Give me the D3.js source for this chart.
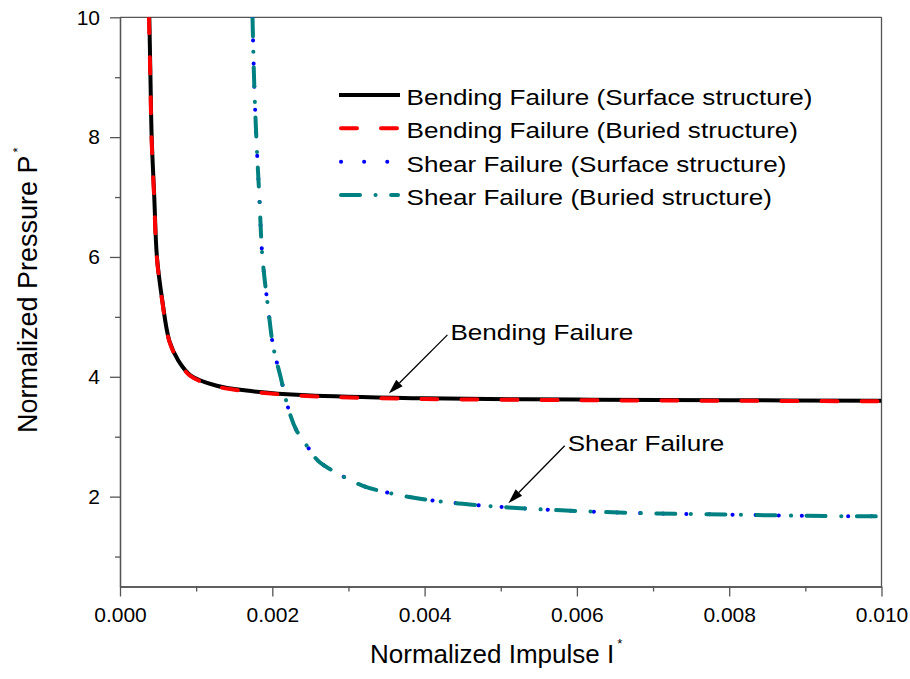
<!DOCTYPE html>
<html>
<head>
<meta charset="utf-8">
<script src="https://cdn.jsdelivr.net/npm/d3@7"></script>
<style>
  body { margin: 0; background: #fff; }
  text { font-family: "Liberation Sans", Arial, sans-serif; fill: #000; }
</style>
</head>
<body>
<svg id="chart" width="910" height="679"></svg>
<script>
// P-I curves: [normalized impulse I*, normalized pressure P*]
const bendingSurface = [
  [0.000385, 10.0], [0.000400, 9.0], [0.000416, 8.0], [0.000450, 7.0],
  [0.000485, 6.0], [0.000556, 5.27], [0.000648, 4.60], [0.000766, 4.27],
  [0.000930, 4.02], [0.00127, 3.85], [0.00166, 3.77], [0.00245, 3.69],
  [0.00400, 3.64], [0.00600, 3.62], [0.00800, 3.61], [0.01000, 3.60]
];
const bendingBuried = [
  [0.000380, 10.0], [0.000398, 9.0], [0.000414, 8.0], [0.000448, 7.0],
  [0.000483, 6.0], [0.000554, 5.27], [0.000646, 4.60], [0.000764, 4.27],
  [0.000928, 4.01], [0.00127, 3.84], [0.00166, 3.76], [0.00245, 3.68],
  [0.00400, 3.63], [0.00600, 3.61], [0.00800, 3.60], [0.01000, 3.59]
];
const shearSurface = [
  [0.00174, 10.0], [0.00176, 9.0], [0.00179, 8.0], [0.00183, 7.0],
  [0.00187, 6.0], [0.00195, 5.10], [0.00201, 4.52], [0.00211, 3.99],
  [0.00222, 3.43], [0.00232, 3.10], [0.00247, 2.82], [0.00260, 2.60],
  [0.00284, 2.40], [0.00319, 2.18], [0.00354, 2.06], [0.00396, 1.96],
  [0.00450, 1.88], [0.00510, 1.82], [0.00600, 1.76], [0.00700, 1.72],
  [0.00800, 1.70], [0.00900, 1.68], [0.01000, 1.67]
];
const shearBuried = [
  [0.00174, 10.0], [0.00176, 9.0], [0.00179, 8.0], [0.00183, 7.0],
  [0.00187, 6.0], [0.00195, 5.10], [0.00201, 4.52], [0.00211, 3.99],
  [0.00222, 3.43], [0.00232, 3.10], [0.00247, 2.82], [0.00260, 2.60],
  [0.00284, 2.40], [0.00319, 2.18], [0.00354, 2.06], [0.00396, 1.96],
  [0.00450, 1.88], [0.00510, 1.82], [0.00600, 1.76], [0.00700, 1.72],
  [0.00800, 1.70], [0.00900, 1.68], [0.01000, 1.67]
];

const seriesNames = [
  "Bending Failure (Surface structure)",
  "Bending Failure (Buried structure)",
  "Shear Failure (Surface structure)",
  "Shear Failure (Buried structure)"
];

const xMajorTicks = [0, 0.002, 0.004, 0.006, 0.008, 0.010];
const xMinorTicks = [0.001, 0.003, 0.005, 0.007, 0.009];
const yMajorTicks = [2, 4, 6, 8, 10];
const yMinorTicks = [1, 3, 5, 7, 9];

// Callouts: label, point on curve the arrow touches, arrow tail
const callouts = [
  { label: "Bending Failure", tip: [0.00353, 3.72], tail: [0.00430, 4.70] },
  { label: "Shear Failure",   tip: [0.00510, 1.89], tail: [0.00584, 2.85] }
];

// ---- drawing ----
const svg = d3.select("#chart");
const plot = { left: 120, right: 881.5, top: 17.3, bottom: 586.5 };
const axisColor = "#555";

const x = d3.scaleLinear().domain([0, 0.010]).range([plot.left, plot.right]);
const y = d3.scaleLinear().domain([0.5, 10]).range([plot.bottom, plot.top]);

// frame (top and right)
svg.append("line").attr("x1", plot.left).attr("x2", plot.right)
  .attr("y1", plot.top).attr("y2", plot.top)
  .attr("stroke", axisColor).attr("stroke-width", 1.3);
svg.append("line").attr("x1", plot.right).attr("x2", plot.right)
  .attr("y1", plot.top).attr("y2", plot.bottom)
  .attr("stroke", axisColor).attr("stroke-width", 1.3);

function styleAxis(g) {
  g.select(".domain").attr("stroke", axisColor).attr("stroke-width", 1.3);
  g.selectAll(".tick line").attr("stroke", axisColor).attr("stroke-width", 1.3);
  g.selectAll(".tick text")
    .attr("font-family", "Liberation Sans, Arial, sans-serif")
    .attr("font-size", 21).attr("fill", "#000");
}

// x axis
svg.append("g").attr("transform", `translate(0,${plot.bottom})`)
  .call(d3.axisBottom(x).tickValues(xMinorTicks).tickSize(5).tickSizeOuter(0).tickFormat(""))
  .call(styleAxis);
svg.append("g").attr("transform", `translate(0,${plot.bottom})`)
  .call(d3.axisBottom(x).tickValues(xMajorTicks).tickSize(10).tickSizeOuter(0)
    .tickPadding(11).tickFormat(d3.format(".3f")))
  .call(styleAxis);

// y axis
svg.append("g").attr("transform", `translate(${plot.left},0)`)
  .call(d3.axisLeft(y).tickValues(yMinorTicks).tickSize(5).tickSizeOuter(0).tickFormat(""))
  .call(styleAxis);
svg.append("g").attr("transform", `translate(${plot.left},0)`)
  .call(d3.axisLeft(y).tickValues(yMajorTicks).tickSize(10).tickSizeOuter(0)
    .tickPadding(10).tickFormat(d3.format("d")))
  .call(styleAxis);

// axis titles
const xTitle = svg.append("text").attr("x", 370).attr("y", 663)
  .attr("font-size", 26);
xTitle.append("tspan").text("Normalized Impulse I");
xTitle.append("tspan").attr("dx", 3).attr("dy", -15).attr("font-size", 13).text("*");

const yTitle = svg.append("text")
  .attr("transform", "translate(37,433) rotate(-90)")
  .attr("font-size", 27);
yTitle.append("tspan").text("Normalized Pressure P");
yTitle.append("tspan").attr("dx", 3).attr("dy", -15).attr("font-size", 13).text("*");

// curves
svg.append("clipPath").attr("id", "plot-clip").append("rect")
  .attr("x", plot.left).attr("y", plot.top)
  .attr("width", plot.right - plot.left).attr("height", plot.bottom - plot.top);

const line = d3.line().x(d => x(d[0])).y(d => y(d[1])).curve(d3.curveCatmullRom.alpha(0.5));

const styles = [
  { color: "#000000", dash: null,                 cap: "butt"  },
  { color: "#ff0000", dash: "16,24",              cap: "round" },
  { color: "#0000ff", dash: "0.1,23",             cap: "round" },
  { color: "#008080", dash: "19,15.5,0.1,15.5",   cap: "round" }
];
const seriesData = [bendingSurface, bendingBuried, shearSurface, shearBuried];

const curves = svg.append("g").attr("clip-path", "url(#plot-clip)");
seriesData.forEach((data, i) => {
  const s = styles[i];
  curves.append("path").datum(data)
    .attr("d", line)
    .attr("fill", "none")
    .attr("stroke", s.color)
    .attr("stroke-width", 4)
    .attr("stroke-linecap", s.cap)
    .attr("stroke-linejoin", "round")
    .attr("stroke-dasharray", s.dash);
});

// legend
const legendX0 = 341, legendX1 = 398, legendTextX = 406.5;
const legendRowY = d3.scalePoint().domain(seriesNames).range([95, 195]);
seriesNames.forEach((name, i) => {
  const s = styles[i];
  const ly = legendRowY(name);
  svg.append("line")
    .attr("x1", i === 0 ? 339 : legendX0).attr("x2", i === 0 ? 400 : legendX1)
    .attr("y1", ly).attr("y2", ly)
    .attr("stroke", s.color).attr("stroke-width", 4)
    .attr("stroke-linecap", s.cap)
    .attr("stroke-dasharray", s.dash);
  svg.append("g").attr("transform", `translate(${legendTextX},${ly + 10}) scale(1.16,1)`)
    .append("text").attr("font-size", 22.5).text(name);
});

// callouts
callouts.forEach(c => {
  const tx = x(c.tip[0]), ty = y(c.tip[1]);
  const sx = x(c.tail[0]), sy = y(c.tail[1]);
  const ang = Math.atan2(ty - sy, tx - sx);
  const headLen = 15, headHalf = 4.5;
  const bx = tx - headLen * Math.cos(ang), by = ty - headLen * Math.sin(ang);
  svg.append("line").attr("x1", sx).attr("y1", sy).attr("x2", bx).attr("y2", by)
    .attr("stroke", "#000").attr("stroke-width", 1.3);
  const nx = -Math.sin(ang), ny = Math.cos(ang);
  svg.append("polygon")
    .attr("points", [
      [tx, ty],
      [bx + nx * headHalf, by + ny * headHalf],
      [bx - nx * headHalf, by - ny * headHalf]
    ].map(p => p.join(",")).join(" "))
    .attr("fill", "#000");
  svg.append("g").attr("transform", `translate(${sx + 3},${sy + 5}) scale(1.16,1)`)
    .append("text").attr("font-size", 22.5).text(c.label);
});
</script>
</body>
</html>
